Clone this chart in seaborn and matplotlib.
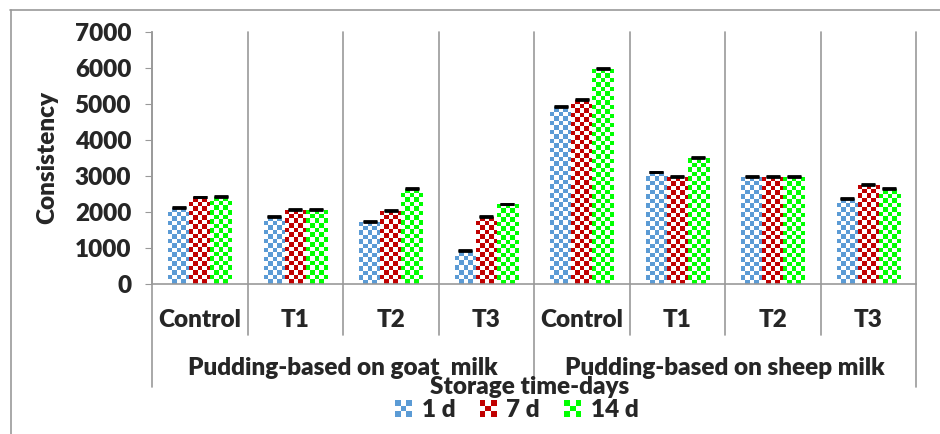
import numpy as np
import pandas as pd
import seaborn as sns
import matplotlib.pyplot as plt
from matplotlib.patches import Rectangle
from matplotlib.lines import Line2D
from matplotlib.legend_handler import HandlerBase
from matplotlib.colors import to_rgb
import matplotlib.transforms as mtransforms

# data
treatments = ["Control", "T1", "T2", "T3", "Control", "T1", "T2", "T3"]
milk_groups = ["Pudding-based on goat  milk", "Pudding-based on sheep milk"]
storage = ["1 d", "7 d", "14 d"]
day1 = [2125, 1865, 1735, 910, 4910, 3100, 2980, 2370]
day7 = [2405, 2060, 2040, 1875, 5115, 2970, 2970, 2750]
day14 = [2430, 2060, 2645, 2210, 5970, 3490, 2970, 2630]
err = 25
colors = ["#5B9BD5", "#C00000", "#00FF00"]

rows = []
for i, t in enumerate(treatments):
    for s, vals in zip(storage, [day1, day7, day14]):
        rows.append({"pos": i, "storage": s, "value": vals[i]})
df = pd.DataFrame(rows)

sns.set_style("white")
plt.rcParams["font.family"] = ["Lato", "DejaVu Sans"]
plt.rcParams["font.weight"] = "heavy"
FS = 17.5
W = "heavy"

fig = plt.figure(figsize=(9.4, 4.34), dpi=100)
ax = fig.add_axes([152 / 940, 1 - 284 / 434, (916 - 152) / 940, 252 / 434])

sns.barplot(data=df, x="pos", y="value", hue="storage", hue_order=storage,
            palette=colors, width=0.66, ax=ax, errorbar=None, legend=False,
            saturation=1, linewidth=0)

# error bars: only the upper cap shows above each bar
bars = [p for p in ax.patches if isinstance(p, Rectangle) and p.get_width() > 0]
bars = sorted(bars, key=lambda p: p.get_x())
for p in bars:
    cx = p.get_x() + p.get_width() / 2
    ax.errorbar(cx, p.get_height(), yerr=[[0], [err]], color="black", capsize=5,
                elinewidth=1, capthick=2, fmt="none", zorder=4)

ax.set_xlim(-0.5, 7.5)
ax.set_ylim(0, 7000)
ax.set_yticks(range(0, 7001, 1000))
ax.tick_params(axis="y", labelsize=FS, length=5, color="#999999", pad=10, left=True)
for lab in ax.get_yticklabels():
    lab.set_fontweight(W)
ax.set_xticks([])
ax.set_xlabel("")
ax.set_ylabel("Consistency", fontsize=FS, fontweight=W, labelpad=12)
for side in ["top", "right"]:
    ax.spines[side].set_visible(False)
for side in ["left", "bottom"]:
    ax.spines[side].set_color("#999999")
    ax.spines[side].set_linewidth(1.2)

# checkered texture on each bar
fig.canvas.draw()
cell = 4.5
for p in bars:
    x0, y0 = p.get_x(), 0
    x1, y1 = p.get_x() + p.get_width(), p.get_height()
    (px0, py0), (px1, py1) = ax.transData.transform([(x0, y0), (x1, y1)])
    nx = max(1, int(round((px1 - px0) / cell)))
    ny = max(1, int(round((py1 - py0) / cell)))
    rgb = np.array(to_rgb(p.get_facecolor()))
    board = (np.add.outer(np.arange(ny), np.arange(nx)) % 2).astype(bool)
    img = np.ones((ny, nx, 3))
    img[board] = rgb
    im = ax.imshow(img, extent=(x0, x1, y0, y1), aspect="auto",
                   interpolation="nearest", zorder=2, origin="lower")
    im.set_clip_path(p)
    p.set_facecolor("white")
ax.set_xlim(-0.5, 7.5)
ax.set_ylim(0, 7000)

# category separators
trans = mtransforms.blended_transform_factory(ax.transData, ax.transAxes)
for b in np.arange(-0.5, 8, 1.0):
    bottom = -0.409 if b in (-0.5, 3.5, 7.5) else -0.202
    ax.plot([b, b], [1, bottom], transform=trans, color="#999999", lw=1.2,
            clip_on=False, zorder=1)

for i, t in enumerate(treatments):
    ax.text(i, -0.143, t, transform=trans, ha="center", va="center",
            fontsize=FS, fontweight=W)
for j, g in enumerate(milk_groups):
    ax.text(1.5 + 4 * j, -0.333, g, transform=trans, ha="center", va="center",
            fontsize=FS, fontweight=W)

fig.text(530 / 940, 1 - 387 / 434, "Storage time-days", ha="center",
         va="center", fontsize=FS, fontweight=W)


class CheckerHandler(HandlerBase):
    def create_artists(self, legend, orig_handle, xdescent, ydescent,
                       width, height, fontsize, trans):
        col = orig_handle.get_facecolor()
        n = 3
        s = height / n
        x_start = width - n * s
        arts = []
        for r in range(n):
            for c in range(n):
                fc = col if (r + c) % 2 == 0 else "white"
                arts.append(Rectangle((x_start - xdescent + c * s, -ydescent + r * s),
                                      s, s, facecolor=fc, edgecolor="none",
                                      transform=trans))
        return arts


handles = [Rectangle((0, 0), 1, 1, facecolor=c) for c in colors]
leg = fig.legend(handles, storage, loc="center", bbox_to_anchor=(517 / 940, 1 - 410 / 434),
                 ncol=3, frameon=False, fontsize=FS, handlelength=0.7,
                 handleheight=0.7, handletextpad=0.4, columnspacing=1.0,
                 handler_map={Rectangle: CheckerHandler()})
for txt in leg.get_texts():
    txt.set_fontweight(W)

# outer frame (cropped chart border)
fig.add_artist(Line2D([10 / 940, 1], [1 - 10 / 434, 1 - 10 / 434],
                      transform=fig.transFigure, color="#999999", lw=1.2))
fig.add_artist(Line2D([11 / 940, 11 / 940], [1 - 10 / 434, 0],
                      transform=fig.transFigure, color="#999999", lw=1.2))

fig.savefig("out.png", dpi=100)
